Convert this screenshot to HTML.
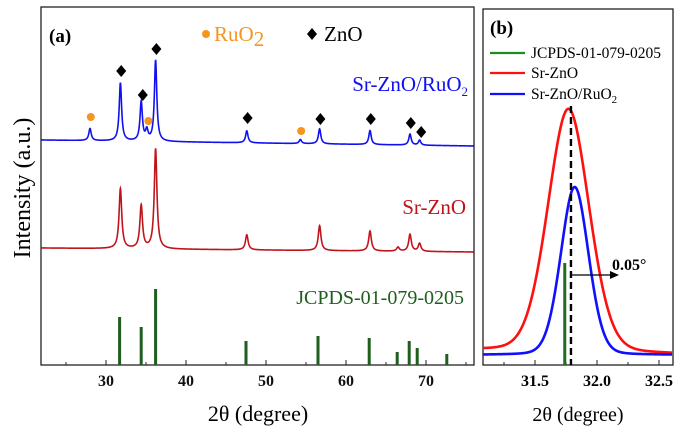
<!DOCTYPE html>
<html><head><meta charset="utf-8"><style>
html,body{margin:0;padding:0;background:#fff;}
svg{display:block;font-family:"Liberation Serif",serif;}
</style></head><body>
<svg id="chart" width="685" height="438" viewBox="0 0 685 438" xmlns="http://www.w3.org/2000/svg">
<g id="pa"></g>
<g id="pb"></g>
</svg>
<script>
// ---- Panel (a) data ----
const aTicks = [30, 40, 50, 60, 70];
const blueBase = [140, 146];
const bluePos = [28.0, 31.8, 34.4, 35.1, 36.2, 47.6, 54.3, 56.7, 63.0, 68.0, 69.2];
const blueH   = [12, 58, 39, 10, 81, 12, 4, 15, 14, 11, 5];
const redBase = [248, 252];
const redPos = [31.8, 34.4, 36.2, 47.6, 56.7, 63.0, 66.5, 68.0, 69.2];
const redH   = [60, 43, 100, 15, 25, 20, 4, 17, 8];
const refPos = [31.7, 34.4, 36.2, 47.5, 56.5, 62.9, 66.4, 67.9, 68.9, 72.6];
const refH   = [48, 38, 76, 24, 29, 27, 13, 24, 17, 11];
const znoMarkPos = [31.9, 34.6, 36.3, 47.7, 56.8, 63.1, 68.1, 69.4];
const znoMarkY   = [71, 95, 49, 118, 119, 119, 123, 132];
const ruMarkPos = [28.1, 35.3, 54.4];
const ruMarkY   = [117, 121, 131];
// ---- Panel (b) data ----
const bTicks = [31.5, 32.0, 32.5];
const bRedCenter = 31.77, bRedH = 243, bRedW = 0.2, bRedBase = [350, 354];
const bBlueCenter = 31.82, bBlueH = 168, bBlueW = 0.135, bBlueBase = [355, 355];
const bRefPos = 31.74, bRefH = 102;
const bDash = 31.79;

const NS = "http://www.w3.org/2000/svg";
function mk(parent, tag, attrs, text){
  const e = document.createElementNS(NS, tag);
  for (const k in attrs) e.setAttribute(k, attrs[k]);
  if (text !== undefined) e.textContent = text;
  parent.appendChild(e); return e;
}
const ax = d => 106 + (d - 30) * 8;
const bx = d => 597 + (d - 32.0) * 124;
const yv = v => v;

const pa = document.getElementById('pa');
const pb = document.getElementById('pb');

let fr = mk(pa, 'rect', {x:41, y:7, width:433, height:358, fill:'none', stroke:'#222', 'stroke-width':1.3});


for (let t = 25; t <= 75; t += 5) {
  const tk = mk(pa, 'line', {x1:ax(t), x2:ax(t), y1:365, y2: t%10===0?360:362, stroke:'#222', 'stroke-width':1});
  
  
}
aTicks.forEach(t => {
  const l = mk(pa, 'text', {x:ax(t), y:386, 'text-anchor':'middle', 'font-size':16, 'font-weight':'bold', fill:'#111'}, String(t));
  
  
});
function profile(pos, h, base, w, x0, x1, xf){
  let d = '';
  for (let x = x0; x <= x1; x += 0.02) {
    let s = 0;
    for (let i = 0; i < pos.length; i++) { const u = (x - pos[i]) / w; s += h[i] / (1 + u*u); }
    const b = base[0] + (base[1]-base[0]) * (x - x0) / (x1 - x0);
    d += (d ? 'L' : 'M') + xf(x).toFixed(2) + ',' + (yv(b) - s).toFixed(2);
  }
  return d;
}
const x0a = 21.9, x1a = 76;
let pBlue = mk(pa, 'path', {d: profile(bluePos, blueH, blueBase, 0.18, x0a, x1a, ax), fill:'none', stroke:'#1010f0', 'stroke-width':1.6});


let pRed = mk(pa, 'path', {d: profile(redPos, redH, redBase, 0.2, x0a, x1a, ax), fill:'none', stroke:'#c0141c', 'stroke-width':1.6});


refPos.forEach((p, i) => {
  const b = mk(pa, 'line', {x1:ax(p), x2:ax(p), y1:365, y2:365 - refH[i], stroke:'#1f5e1f', 'stroke-width':3});
  
  
});
znoMarkPos.forEach((p, i) => {
  const x = ax(p), y = znoMarkY[i];
  const m = mk(pa, 'path', {d:`M${x},${y-6}L${x+5},${y}L${x},${y+6}L${x-5},${y}Z`, fill:'#000'});
  
  
});
ruMarkPos.forEach((p, i) => {
  const m = mk(pa, 'circle', {cx:ax(p), cy:ruMarkY[i], r:4, fill:'#f7941d'});
  
  
});
</script>
<script>
(function(){
const NS = "http://www.w3.org/2000/svg";
const svg = document.getElementById('chart');
function t(attrs, html, name){
  const e = document.createElementNS(NS, 'text');
  for (const k in attrs) e.setAttribute(k, attrs[k]);
  e.innerHTML = html;
  
  
  svg.appendChild(e); return e;
}
t({x:49, y:42, 'font-size':19, 'font-weight':'bold'}, '(a)', 'panel-a-label');
const od = document.createElementNS(NS, 'circle');
od.setAttribute('cx', 206); od.setAttribute('cy', 34); od.setAttribute('r', 4); od.setAttribute('fill', '#f7941d');


svg.appendChild(od);
t({x:214, y:41, 'font-size':21, fill:'#f7941d'}, 'RuO<tspan font-size="21" dy="5">2</tspan>', 'legend-ruo2');
const dm = document.createElementNS(NS, 'path');
dm.setAttribute('d', 'M312,28L317,34L312,40L307,34Z');


svg.appendChild(dm);
t({x:324, y:41, 'font-size':21}, 'ZnO', 'legend-zno');
t({x:468, y:91, 'font-size':21, fill:'#1010f0', 'text-anchor':'end'}, 'Sr-ZnO/RuO<tspan font-size="13" dy="5">2</tspan>', 'sr-zno-ruo2-label');
t({x:466, y:214, 'font-size':21, fill:'#c0141c', 'text-anchor':'end'}, 'Sr-ZnO', 'sr-zno-label');
t({x:464, y:304, 'font-size':20, fill:'#1f5e1f', 'text-anchor':'end'}, 'JCPDS-01-079-0205', 'jcpds-label');
t({x:258, y:421, 'font-size':22, 'text-anchor':'middle'}, '2θ (degree)', 'x-axis-title-a');
t({x:0, y:0, 'font-size':24, 'text-anchor':'middle', transform:'translate(30,188) rotate(-90)'}, 'Intensity (a.u.)', 'y-axis-title');
})();
</script>
<script>
(function(){
const NS = "http://www.w3.org/2000/svg";
const pb = document.getElementById('pb');
function mk(tag, attrs, text){
  const e = document.createElementNS(NS, tag);
  for (const k in attrs) e.setAttribute(k, attrs[k]);
  if (text !== undefined) e.innerHTML = text;
  pb.appendChild(e); return e;
}
let fr = mk('rect', {x:483, y:9, width:190, height:356, fill:'none', stroke:'#222', 'stroke-width':1.3});


for (let v = 31.25; v <= 32.6; v += 0.25) {
  const tk = mk('line', {x1:bx(v), x2:bx(v), y1:365, y2:(Math.abs(v*2-Math.round(v*2))<0.01)?360:362, stroke:'#222'});
  
  
}
bTicks.forEach(v => {
  const l = mk('text', {x:bx(v), y:386, 'text-anchor':'middle', 'font-size':16, 'font-weight':'bold'}, v.toFixed(1));
  
  
});
function peak(c, h, w, base, col){
  let d = '';
  const x0 = 31.08, x1 = 32.61;
  for (let x = x0; x <= x1; x += 0.005) {
    const u = (x - c) / w;
    const s = h * (0.85*Math.exp(-u*u*0.693) + 0.15/(1+u*u*1.5));
    const b = base[0] + (base[1]-base[0])*(x-x0)/(x1-x0);
    d += (d ? 'L' : 'M') + bx(x).toFixed(2) + ',' + (b - s).toFixed(2);
  }
  return mk('path', {d, fill:'none', stroke:col, 'stroke-width':2.6});
}
let r = peak(bRedCenter, bRedH, bRedW, bRedBase, '#ff1010');


let b = peak(bBlueCenter, bBlueH, bBlueW, bBlueBase, '#1010ff');


let g = mk('line', {x1:bx(bRefPos), x2:bx(bRefPos), y1:365, y2:365-bRefH, stroke:'#1f6e1f', 'stroke-width':3});


let dl = mk('line', {x1:bx(bDash), x2:bx(bDash), y1:106, y2:365, stroke:'#000', 'stroke-width':2.4, 'stroke-dasharray':'7,4'});


let ar = mk('line', {x1:bx(bDash), x2:bx(bDash)+42, y1:275, y2:275, stroke:'#000', 'stroke-width':1.2});


let ah = mk('path', {d:`M${bx(bDash)+48},275L${bx(bDash)+39},271L${bx(bDash)+39},279Z`, fill:'#000'});


let sl = mk('text', {x:612, y:270, 'font-size':16, 'font-weight':'bold'}, '0.05°');


let pl = mk('text', {x:490, y:34, 'font-size':19, 'font-weight':'bold'}, '(b)');


const leg = [['#1f8a1f','JCPDS-01-079-0205',53],['#ff1010','Sr-ZnO',73],['#1010ff','Sr-ZnO/RuO<tspan font-size="11" dy="4">2</tspan>',94]];
leg.forEach(e => {
  const ln = mk('line', {x1:490, x2:525, y1:e[2], y2:e[2], stroke:e[0], 'stroke-width':2.2});
  
  
  const tx = mk('text', {x:531, y:e[2]+5, 'font-size':15.5}, e[1]);
  
  
});
let xt = mk('text', {x:578, y:421, 'font-size':20, 'text-anchor':'middle'}, '2θ (degree)');


})();
</script>
</body></html>
